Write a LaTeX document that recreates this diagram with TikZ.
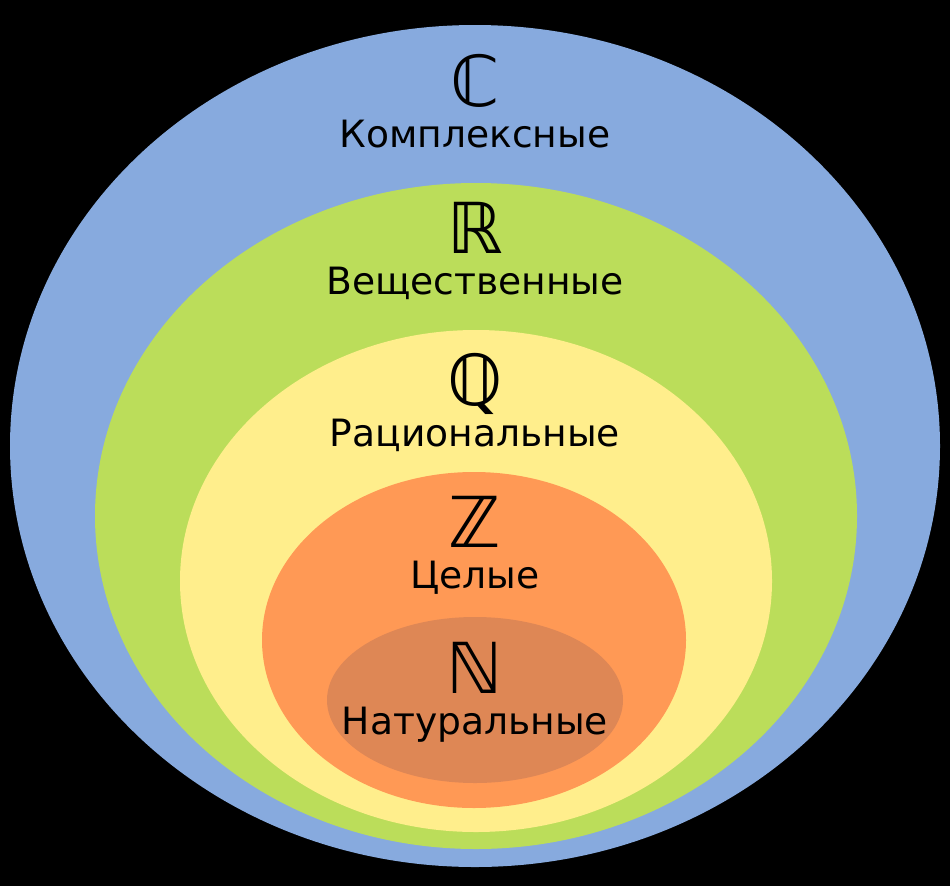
\documentclass[tikz,border=0pt]{standalone}
\usepackage{fontspec}
\setmainfont{DejaVu Sans}
\usepackage{tikz}

\definecolor{complexblue}{RGB}{135,170,222}
\definecolor{realgreen}{RGB}{187,221,90}
\definecolor{ratyellow}{RGB}{255,238,140}
\definecolor{intorange}{RGB}{255,153,85}
\definecolor{natbrown}{RGB}{222,135,85}

\tikzset{
  setsym/.style={anchor=base,inner sep=0pt,font=\fontsize{20}{22}\selectfont},
  setname/.style={anchor=base,inner sep=0pt,font=\fontsize{10.7}{13}\selectfont}
}

\begin{document}
\begin{tikzpicture}

% background
\fill[black] (0,0) rectangle (9.5,-8.86);

% nested sets
\fill[complexblue] (4.75,-4.46) ellipse (4.65 and 4.21);
\fill[realgreen] (4.76,-5.16) ellipse (3.81 and 3.33);
\fill[ratyellow] (4.76,-5.81) ellipse (2.96 and 2.51);
\fill[intorange] (4.74,-6.40) ellipse (2.12 and 1.68);
\fill[natbrown] (4.75,-7.00) ellipse (1.48 and 0.83);

\node[setsym] (symC) at (4.75,-1.06) {ℂ};
\node[setname] (nameC) at (4.75,-1.47) {Комплексные};

\node[setsym] (symR) at (4.75,-2.53) {ℝ};
\node[setname] (nameR) at (4.75,-2.94) {Вещественные};

\node[setsym] (symQ) at (4.75,-4.05) {ℚ};
\node[setname] (nameQ) at (4.75,-4.46) {Рациональные};

\node[setsym] (symZ) at (4.75,-5.47) {ℤ};
\node[setname] (nameZ) at (4.75,-5.88) {Целые};

\node[setsym] (symN) at (4.75,-6.93) {ℕ};
\node[setname] (nameN) at (4.75,-7.34) {Натуральные};

\end{tikzpicture}
\end{document}
